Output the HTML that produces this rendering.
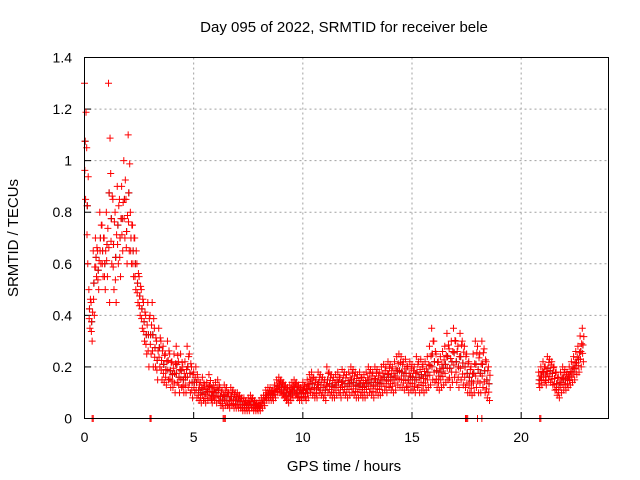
<!DOCTYPE html>
<html><head><meta charset="utf-8"><style>
html,body{margin:0;padding:0;background:#fff;}
svg{display:block;font-family:"Liberation Sans",sans-serif;}
</style></head><body>
<svg id="chart" width="640" height="480" viewBox="0 0 640 480">
<text x="344" y="32" font-size="15" text-anchor="middle">Day 095 of 2022, SRMTID for receiver bele</text>
<text x="344" y="471" font-size="15" text-anchor="middle">GPS time / hours</text>
<text x="18" y="238" font-size="15" text-anchor="middle" transform="rotate(-90 18 238)">SRMTID / TECUs</text>
<g id="grid"></g><g id="ticks"></g><g id="marks"></g>
<rect x="84.5" y="57.5" width="524" height="361" fill="none" stroke="#000" stroke-width="1"/>
</svg>
<script>
const xTicks=[0,5,10,15,20];
const yTicks=[0,0.2,0.4,0.6,0.8,1,1.2,1.4];
const yTickLabels=["0","0.2","0.4","0.6","0.8","1","1.2","1.4"];
const seg1Start=0, seg1Step=0.1;
const upperVals=[1.3,1.05,0.5,0.45,0.65,0.7,0.65,0.8,0.75,0.7,0.8,1.3,0.95,0.85,0.8,0.9,0.85,0.9,1.0,0.85,1.1,0.8,0.75,0.7,0.6,0.55,0.5,0.45,0.4,0.45,0.4,0.45,0.35,0.3,0.35,0.3,0.28,0.25,0.3,0.25,0.22,0.25,0.28,0.22,0.25,0.2,0.22,0.28,0.25,0.2,
0.18,0.2,0.15,0.14,0.16,0.13,0.14,0.17,0.12,0.13,0.14,0.15,0.12,0.11,0.13,0.12,0.1,0.12,0.11,0.1,0.1,0.09,0.08,0.08,0.07,0.08,0.09,0.08,0.07,0.06,0.07,0.08,0.09,0.11,0.12,0.12,0.11,0.13,0.15,0.16,0.15,0.14,0.13,0.12,0.13,0.14,0.15,0.14,0.13,0.12,
0.14,0.13,0.15,0.17,0.18,0.16,0.15,0.18,0.17,0.16,0.15,0.2,0.18,0.17,0.16,0.17,0.18,0.16,0.19,0.18,0.17,0.18,0.2,0.19,0.18,0.17,0.18,0.16,0.17,0.18,0.2,0.19,0.18,0.2,0.19,0.18,0.2,0.21,0.2,0.22,0.21,0.2,0.22,0.24,0.25,0.24,0.22,0.23,0.2,0.22,
0.21,0.2,0.24,0.22,0.23,0.21,0.22,0.24,0.28,0.35,0.3,0.25,0.22,0.24,0.26,0.28,0.33,0.27,0.3,0.35,0.3,0.28,0.33,0.3,0.28,0.25,0.22,0.2,0.25,0.3,0.28,0.25,0.3,0.27,0.22,0.2];
const lowerVals=[0.85,0.6,0.35,0.3,0.4,0.55,0.5,0.6,0.55,0.5,0.55,0.45,0.6,0.5,0.45,0.6,0.55,0.65,0.7,0.6,0.65,0.6,0.55,0.5,0.45,0.4,0.35,0.3,0.25,0.2,0.25,0.2,0.2,0.15,0.2,0.15,0.14,0.13,0.15,0.12,0.12,0.1,0.14,0.1,0.12,0.1,0.1,0.12,0.1,0.08,
0.1,0.08,0.07,0.06,0.07,0.06,0.07,0.08,0.06,0.07,0.06,0.07,0.05,0.04,0.05,0.05,0.04,0.05,0.04,0.04,0.04,0.04,0.03,0.03,0.03,0.03,0.04,0.03,0.03,0.03,0.03,0.04,0.05,0.07,0.07,0.07,0.07,0.08,0.1,0.1,0.09,0.08,0.07,0.06,0.07,0.08,0.09,0.08,0.07,0.07,
0.08,0.07,0.08,0.1,0.09,0.08,0.08,0.1,0.09,0.08,0.07,0.1,0.09,0.08,0.08,0.09,0.1,0.08,0.1,0.09,0.08,0.09,0.1,0.09,0.08,0.08,0.09,0.08,0.08,0.09,0.1,0.09,0.08,0.1,0.09,0.09,0.1,0.11,0.1,0.12,0.11,0.1,0.11,0.13,0.12,0.12,0.11,0.12,0.1,0.11,
0.11,0.1,0.12,0.1,0.11,0.1,0.11,0.12,0.13,0.15,0.14,0.12,0.11,0.12,0.13,0.14,0.15,0.12,0.14,0.16,0.14,0.12,0.15,0.13,0.12,0.1,0.1,0.09,0.1,0.12,0.1,0.1,0.12,0.1,0.08,0.07];
const seg2Start=20.8, seg2Step=0.1;
const upper2=[0.18,0.2,0.22,0.2,0.24,0.23,0.22,0.2,0.18,0.16,0.18,0.2,0.19,0.18,0.2,0.22,0.24,0.26,0.28,0.32,0.35];
const lower2=[0.12,0.13,0.14,0.13,0.15,0.14,0.13,0.11,0.09,0.08,0.1,0.11,0.11,0.12,0.13,0.14,0.15,0.17,0.18,0.2,0.22];
const zeroTimes=[0.35,0.4,3.0,3.05,6.35,6.4,6.45,17.45,17.5,17.55,18.0,18.2,20.85,20.9];
const X=t=>84.5+t*(524/24);
const Y=v=>418.5-v*(361/1.4);
const NS="http://www.w3.org/2000/svg";
const grid=document.getElementById('grid'),ticks=document.getElementById('ticks'),marks=document.getElementById('marks');
function mk(tag,attrs,parent){const e=document.createElementNS(NS,tag);for(const k in attrs)e.setAttribute(k,attrs[k]);parent.appendChild(e);return e;}
xTicks.forEach(t=>{
 const x=X(t);
 if(t>0){const g=mk('line',{x1:x,x2:x,y1:57.5,y2:418.5,stroke:'#a0a0a0','stroke-dasharray':'2,3'},grid);
 
 }
 mk('line',{x1:x,x2:x,y1:418.5,y2:412,stroke:'#000'},ticks);
 const lb=mk('text',{x:x,y:442,'font-size':14,'text-anchor':'middle'},ticks);lb.textContent=t;
 
 
});
yTicks.forEach((v,i)=>{
 const y=Y(v);
 if(v>0&&v<1.4){const g=mk('line',{x1:84.5,x2:608.5,y1:y,y2:y,stroke:'#a0a0a0','stroke-dasharray':'2,3'},grid);
 
 }
 mk('line',{x1:84.5,x2:91,y1:y,y2:y,stroke:'#000'},ticks);
 const lb=mk('text',{x:72,y:y+5,'font-size':14,'text-anchor':'end'},ticks);lb.textContent=yTickLabels[i];
 
 
});
function cross(t,v,col){
 const x=X(t),y=Y(v);
 const p=mk('path',{d:`M${x-3.5},${y}h7M${x},${y-3.5}v7`,stroke:col,'stroke-width':1,fill:'none'},marks);
 
 
}
function drawSeg(start,step,up,lo){
 up.forEach((u,i)=>{const t=start+i*step,l=lo[i];cross(t+0.03,(u+l)/2,'#000');});
 up.forEach((u,i)=>{const t=start+i*step,l=lo[i];const m=(u+l)/2;
  cross(t,u,'#f00');cross(t+0.05,l,'#f00');cross(t+0.025,m,'#f00');
  cross(t+0.07,(u+m)/2,'#f00');cross(t+0.015,(l+m)/2,'#f00');});
}
drawSeg(seg1Start,seg1Step,upperVals,lowerVals);
drawSeg(seg2Start,seg2Step,upper2,lower2);
zeroTimes.forEach(t=>cross(t,0,'#f00'));
</script>
</body></html>
